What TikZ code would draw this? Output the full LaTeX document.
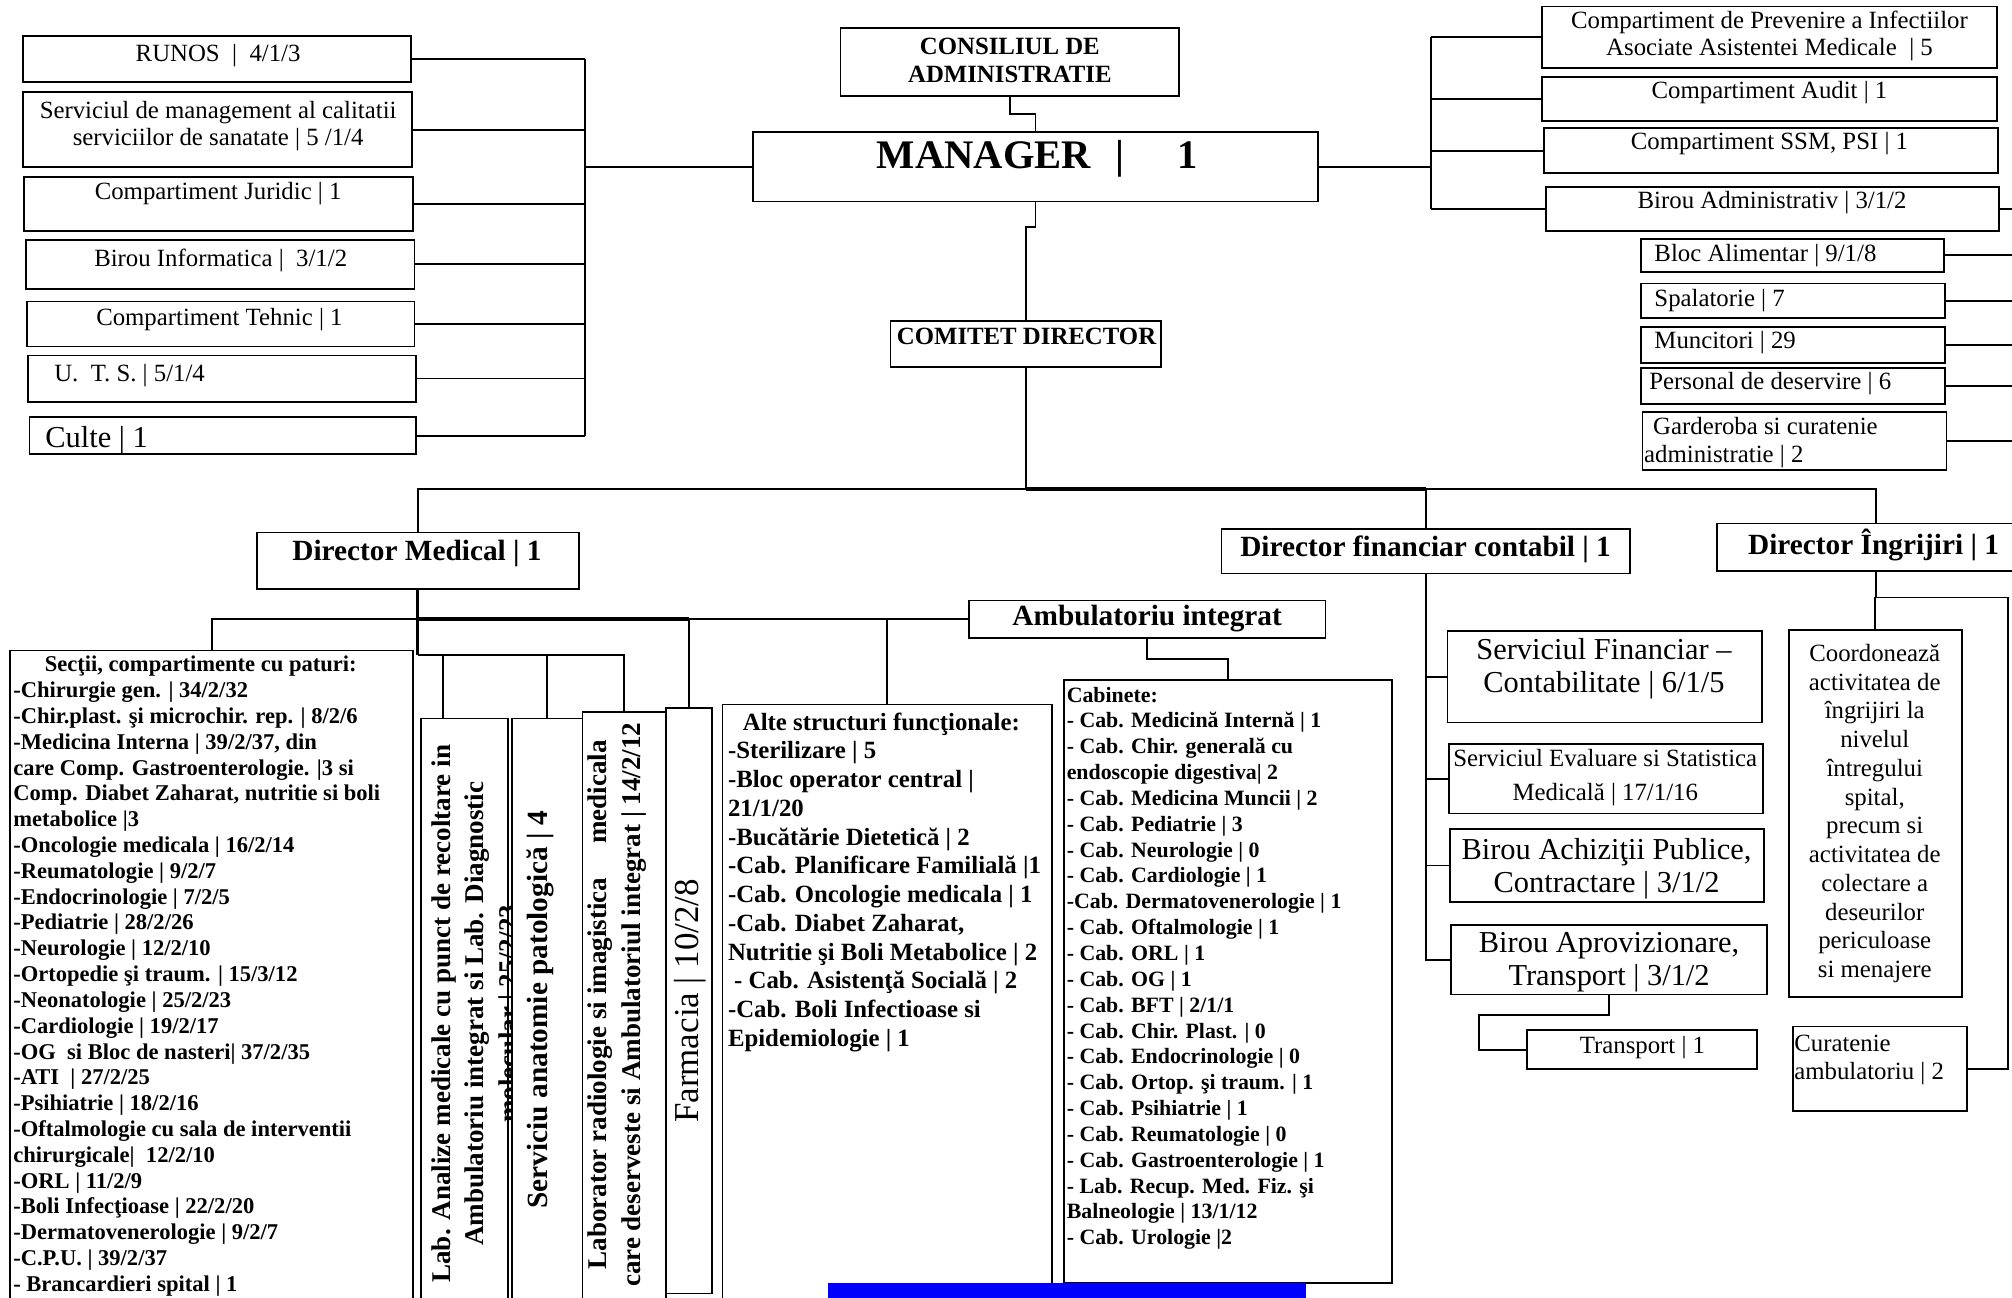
\documentclass[tikz,border=0pt]{standalone}
\usepackage{fontspec}
\setmainfont{Liberation Serif}
\usetikzlibrary{calc,fit,positioning}

\begin{document}
\begin{tikzpicture}[x=0.02cm,y=-0.02cm,
	box/.style={draw,line width=0.8pt,inner sep=0pt,fill=white},
	txt/.style={inner sep=0pt,align=center,font=\fontsize{11}{12}\selectfont},
	btxt/.style={inner sep=0pt,align=center,font=\fontsize{11}{12.2}\selectfont\bfseries},
	bigtxt/.style={inner sep=0pt,align=center,font=\fontsize{13.5}{14.8}\selectfont},
	dtxt/.style={inner sep=0pt,align=center,font=\fontsize{13}{14}\selectfont\bfseries},
	vtxt/.style={inner sep=0pt,align=center,rotate=90,font=\fontsize{12}{14.8}\selectfont\bfseries},
	list/.style={inner sep=0pt,align=left,anchor=north west},
	wire/.style={line width=0.8pt},
	bus/.style={line width=1.5pt}]
\useasboundingbox (0,0) rectangle (1568,1011);

\node[box,fit={(18,28) (320,64)}] (runos) {};
\node[box,fit={(18,72) (321,130)}] (sermng) {};
\node[box,fit={(19,138) (322,180)}] (juridic) {};
\node[box,fit={(20,187) (323,225)}] (inform) {};
\node[box,fit={(21,235) (323,270)}] (tehnic) {};
\node[box,fit={(22,277) (324,313)}] (uts) {};
\node[box,fit={(23,325) (324,354)}] (culte) {};
\node[txt] at (170,43) {RUNOS\ \ |\ \ 4/1/3};
\node[txt] at (170,98) {Serviciul de management al calitatii\\serviciilor de sanatate | 5 /1/4};
\node[txt] at (170,151) {Compartiment Juridic | 1};
\node[txt] at (172,203) {Birou Informatica |\ \ 3/1/2};
\node[txt] at (171,249) {Compartiment Tehnic | 1};
\node[txt,anchor=west] at (42,293) {U.\ \ T. S. | 5/1/4};
\node[txt,anchor=west,font=\fontsize{13.5}{15}\selectfont] at (35,343) {Culte | 1};

\node[box,fit={(655,22) (919,75)}] (consiliu) {};
\node[box,fit={(587,103) (1027,157)}] (manager) {};
\node[box,fit={(694,250) (905,286)}] (comitet) {};
\node[btxt] at (787,47) {CONSILIUL DE\\ADMINISTRATIE};
\node[btxt,anchor=west,font=\fontsize{18}{20}\selectfont\bfseries] at (683,124) {MANAGER\hspace{0.6em}|\hspace{1.3em}1};
\node[btxt] at (800,262) {COMITET DIRECTOR};

\node[box,fit={(1202,5) (1556,53)}] (prevenire) {};
\node[box,fit={(1202,60) (1556,94)}] (audit) {};
\node[box,fit={(1203,100) (1557,135)}] (ssm) {};
\node[box,fit={(1205,146) (1558,180)}] (biradm) {};
\node[box,fit={(1279,186) (1515,212)}] (bloc) {};
\node[box,fit={(1279,221) (1516,248)}] (spal) {};
\node[box,fit={(1279,255) (1516,283)}] (munc) {};
\node[box,fit={(1279,287) (1516,315)}] (pers) {};
\node[box,fit={(1280,321) (1517,366)}] (gard) {};
\node[txt] at (1379,28) {Compartiment de Prevenire a Infectiilor\\Asociate Asistentei Medicale\ \ | 5};
\node[txt] at (1379,72) {Compartiment Audit | 1};
\node[txt] at (1379,112) {Compartiment SSM, PSI | 1};
\node[txt] at (1381,158) {Birou Administrativ | 3/1/2};
\node[txt,anchor=west] at (1289,199) {Bloc Alimentar | 9/1/8};
\node[txt,anchor=west] at (1289,234) {Spalatorie | 7};
\node[txt,anchor=west] at (1289,267) {Muncitori | 29};
\node[txt,anchor=west] at (1285,299) {Personal de deservire | 6};
\node[txt,list,font=\fontsize{11}{12.5}\selectfont] at (1281,325) {\hspace*{4pt}Garderoba si curatenie\\administratie | 2};

\node[box,fit={(200,415) (451,459)}] (dirmed) {};
\node[box,fit={(952,412) (1270,447)}] (dirfin) {};
\node[box,fit={(1338,408) (1586,445)}] (dirngr) {};
\node[box,fit={(755,468) (1033,497)}] (ambul) {};
\node[dtxt] at (325,431) {Director Medical | 1};
\node[dtxt] at (1111,428) {Director financiar contabil | 1};
\node[dtxt,anchor=west] at (1362,425) {Director Îngrijiri | 1};
\node[dtxt] at (894,482) {Ambulatoriu integrat};

\node[box,fit={(8,507) (322,1020)}] (sectii) {};
\node[list,font=\fontsize{10}{11.45}\selectfont\bfseries] at (10,511) {\hspace*{1.4em}Secţii, compartimente cu paturi:\\
-Chirurgie gen. | 34/2/32\\
-Chir.plast. şi microchir. rep. | 8/2/6\\
-Medicina Interna | 39/2/37, din\\
care Comp. Gastroenterologie. |3 si\\
Comp. Diabet Zaharat, nutritie si boli\\
metabolice |3\\
-Oncologie medicala | 16/2/14\\
-Reumatologie | 9/2/7\\
-Endocrinologie | 7/2/5\\
-Pediatrie | 28/2/26\\
-Neurologie | 12/2/10\\
-Ortopedie şi traum. | 15/3/12\\
-Neonatologie | 25/2/23\\
-Cardiologie | 19/2/17\\
-OG\ \ si Bloc de nasteri| 37/2/35\\
-ATI\ \ | 27/2/25\\
-Psihiatrie | 18/2/16\\
-Oftalmologie cu sala de interventii\\
chirurgicale|\ \ 12/2/10\\
-ORL | 11/2/9\\
-Boli Infecţioase | 22/2/20\\
-Dermatovenerologie | 9/2/7\\
-C.P.U. | 39/2/37\\
- Brancardieri spital | 1};

\node[box,fit={(328,560) (396,1020)}] (labanaliz) {};
\node[vtxt] at (372,790) {Lab. Analize medicale cu punct de recoltare in\\Ambulatoriu integrat si Lab. Diagnostic\\molecular | 25/2/23};
\node[box,fit={(399,560) (454,1020)}] (servanat) {};
\node[vtxt,font=\fontsize{13}{15}\selectfont\bfseries] at (421,787) {Serviciu anatomie patologică | 4};
\node[box,fit={(454,555) (519,1020)}] (labrad) {};
\node[vtxt,font=\fontsize{12}{15.4}\selectfont\bfseries] at (481,783) {Laborator radiologie si imagistica\ \ \ \ \ medicala\\care deserveste si Ambulatoriul integrat | 14/2/12};
\node[box,fit={(519,552) (555,1008)}] (farm) {};
\node[vtxt,font=\fontsize{15.5}{17}\selectfont] at (538,780) {Farmacia | 10/2/8};

\node[box,fit={(563,549) (820,1020)}] (alte) {};
\node[list,font=\fontsize{11}{12.75}\selectfont\bfseries] at (567,555) {\hspace*{0.6em}Alte structuri funcţionale:\\
-Sterilizare | 5\\
-Bloc operator central |\\
21/1/20\\
-Bucătărie Dietetică | 2\\
-Cab. Planificare Familială |1\\
-Cab. Oncologie medicala | 1\\
-Cab. Diabet Zaharat,\\
Nutritie şi Boli Metabolice | 2\\
\ - Cab. Asistenţă Socială | 2\\
-Cab. Boli Infectioase si\\
Epidemiologie | 1};

\node[box,fit={(829,530) (1085,1000)}] (cab) {};
\node[list,font=\fontsize{9.7}{11.46}\selectfont\bfseries] at (831,535) {Cabinete:\\
- Cab. Medicină Internă | 1\\
- Cab. Chir. generală cu\\
endoscopie digestiva| 2\\
- Cab. Medicina Muncii | 2\\
- Cab. Pediatrie | 3\\
- Cab. Neurologie | 0\\
- Cab. Cardiologie | 1\\
-Cab. Dermatovenerologie | 1\\
- Cab. Oftalmologie | 1\\
- Cab. ORL | 1\\
- Cab. OG | 1\\
- Cab. BFT | 2/1/1\\
- Cab. Chir. Plast. | 0\\
- Cab. Endocrinologie | 0\\
- Cab. Ortop. şi traum. | 1\\
- Cab. Psihiatrie | 1\\
- Cab. Reumatologie | 0\\
- Cab. Gastroenterologie | 1\\
- Lab. Recup. Med. Fiz. şi\\
Balneologie | 13/1/12\\
- Cab. Urologie |2};

\node[box,fit={(1128,492) (1373,563)}] (serfin) {};
\node[box,fit={(1129,580) (1374,634)}] (sereval) {};
\node[box,fit={(1130,646) (1375,703)}] (achiz) {};
\node[box,fit={(1131,721) (1377,775)}] (aprov) {};
\node[box,fit={(1190,803) (1369,833)}] (transp) {};
\node[bigtxt] at (1250,521) {Serviciul Financiar –\\Contabilitate | 6/1/5};
\node[txt,font=\fontsize{11}{14.8}\selectfont] at (1251,606) {Serviciul Evaluare si Statistica\\Medicală | 17/1/16};
\node[bigtxt] at (1252,677) {Birou Achiziţii Publice,\\Contractare | 3/1/2};
\node[bigtxt] at (1254,750) {Birou Aprovizionare,\\Transport | 3/1/2};
\node[txt] at (1280,816) {Transport | 1};

\node[box,fit={(1394,491) (1529,777)}] (coord) {};
\node[box,fit={(1397,800) (1533,866)}] (curat) {};
\node[txt,font=\fontsize{11}{12.75}\selectfont] at (1461,634) {Coordonează\\activitatea de\\îngrijiri la\\nivelul\\întregului\\spital,\\precum si\\activitatea de\\colectare a\\deseurilor\\periculoase\\si menajere};
\node[txt,list,font=\fontsize{11}{12.5}\selectfont] at (1398,806) {Curatenie\\ambulatoriu | 2};

\coordinate (lbus) at (456,0);
\coordinate (rbus) at (1115,0);
\coordinate (redge) at (1590,0);
\coordinate (dbus) at (0,381);
\coordinate (nbus) at (1565,0);

\foreach \n in {runos,sermng,juridic,inform,tehnic,uts,culte}
	\draw[wire] (\n.east) -- (lbus |- \n.east);
\draw[wire] (lbus |- runos.east) -- (lbus |- culte.east);
\draw[wire] (lbus |- manager.west) -- (manager.west);

\foreach \n in {prevenire,audit,ssm,biradm}
	\draw[wire] (\n.west) -- (rbus |- \n.west);
\draw[wire] (rbus |- prevenire.west) -- (rbus |- biradm.west);
\draw[wire] (manager.east) -- (rbus |- manager.east);
\foreach \n in {biradm,bloc,spal,munc,pers,gard}
	\draw[wire] (\n.east) -- (redge |- \n.east);

\draw[wire] (consiliu.south) -- ++(0,13) -| (manager.north);
\draw[wire] (manager.south) -- ++(0,19) -| (comitet.north);
\draw[wire] (comitet.south) -- (comitet.south |- dbus);
\draw[wire] (dirmed.north) |- (comitet.south |- dbus);
\draw[bus] (comitet.south |- dbus) -- (dirfin.north |- dbus);
\draw[wire] (dirfin.north) -- (dirfin.north |- dbus) -| (dirngr.north);

\coordinate (labin) at ($(labanaliz.north)+(-17,0)$);
\draw[wire] (sectii.north) |- (ambul.west);
\draw[bus] (dirmed.south) -- (dirmed.south |- ambul.west) -- (farm.north |- ambul.west);
\draw[bus] (dirmed.south |- ambul.west) -- ++(0,28) coordinate (lb);
\draw[wire] (lb) -| (labrad.north);
\draw[wire] (lb -| labin) -- (labin);
\draw[wire] (lb -| servanat.north) -- (servanat.north);
\draw[wire] (farm.north |- ambul.west) -- (farm.north);
\draw[wire] (alte.north) -- (alte.north |- ambul.west);
\draw[wire] (ambul.south) -- ++(0,16) -| (cab.north);

\draw[wire] (dirfin.south) -- (dirfin.south |- aprov.west) -- (aprov.west);
\foreach \n in {serfin,sereval,achiz}
	\draw[wire] (dirfin.south |- \n.west) -- (\n.west);
\draw[wire] (aprov.south) -- ++(0,15) -| ($(transp.west)+(-37,0)$) -- (transp.west);

\draw[wire] (dirngr.south) -- ++(0,20) coordinate (ng) -| (coord.north);
\draw[wire] (ng) -- (nbus |- ng) |- (curat.east);

\fill[blue] (645,1000) rectangle (1018,1015);
\end{tikzpicture}
\end{document}
